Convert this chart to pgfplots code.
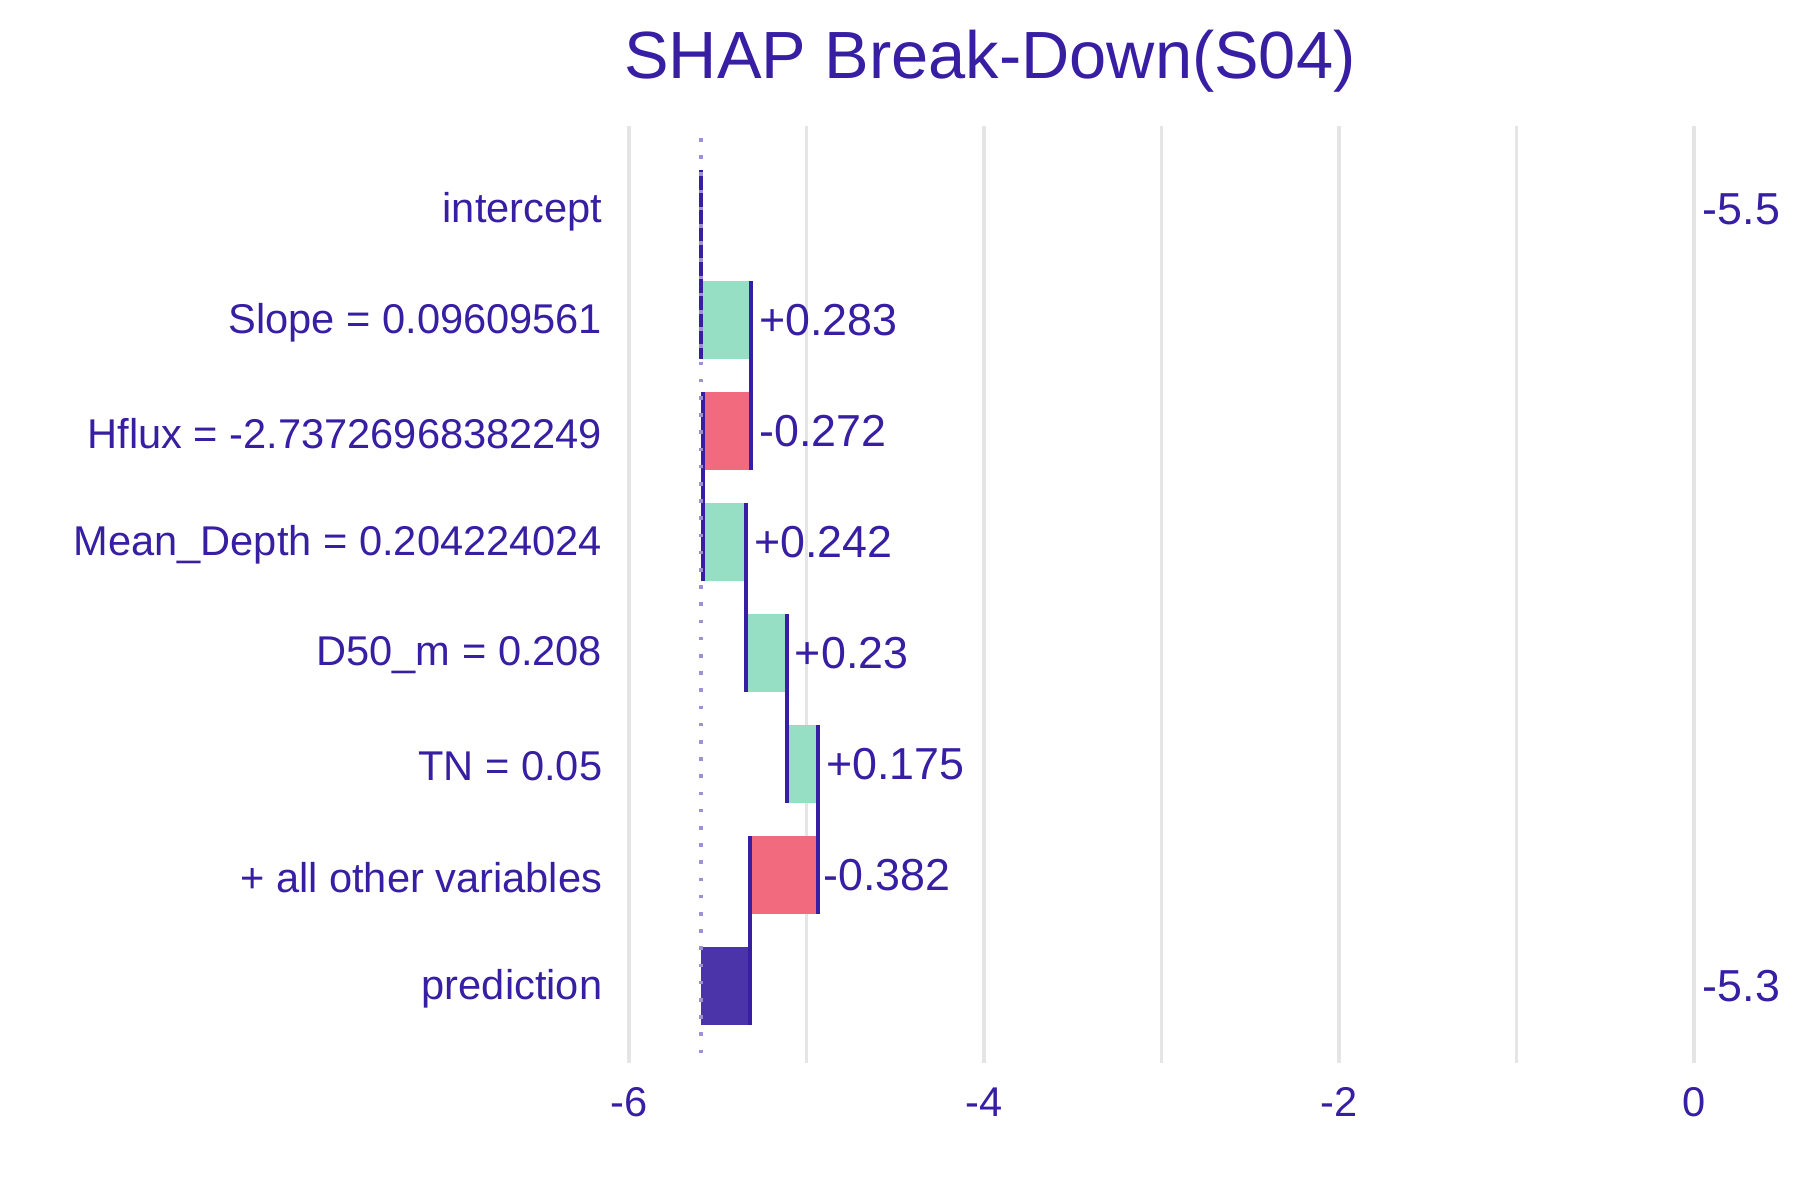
\documentclass[border=0pt]{standalone}
\usepackage{fontspec}
\setmainfont{Liberation Sans}
\usepackage{pgfplots}
\pgfplotsset{compat=1.18}
\definecolor{txt}{HTML}{371EA3}
\definecolor{pos}{HTML}{96DFC5}
\definecolor{neg}{HTML}{F16A7D}
\definecolor{pred}{HTML}{4B34A9}
\definecolor{dotc}{HTML}{9D91D5}
\definecolor{gridc}{HTML}{E5E5E5}
\begin{document}
\begin{tikzpicture}
\useasboundingbox (-157.25pt,-34.35pt) rectangle (292.75pt,265.65pt);
\begin{axis}[
  name=a, at={(0,0)}, anchor=south west,
  scale only axis, width=266.25pt, height=234.21pt,
  xmin=-6, xmax=0, ymin=0.25, ymax=8.69, y dir=reverse,
  clip=false,
  axis line style={draw=none},
  major tick length=0pt, minor tick length=0pt,
  xtick={-6,-4,-2,0}, xticklabels={-6,-4,-2,0},
  minor xtick={-5,-3,-1},
  xmajorgrids, xminorgrids,
  major grid style={gridc, line width=0.85pt},
  minor grid style={gridc, line width=0.85pt},
  ytick={1,2,3,4,5,6,7,8},
  yticklabels={intercept, Slope = 0.09609561, Hflux = -2.73726968382249, Mean\_Depth = 0.204224024, D50\_m = 0.208, TN = 0.05, + all other variables, prediction},
  yticklabel style={anchor=east, inner sep=0pt, xshift=-6.5pt, yshift=-0.6pt, text=txt, font=\fontsize{10.4}{12}\selectfont},
  xticklabel style={anchor=north, inner sep=0pt, yshift=-6pt, text=txt, font=\fontsize{10.4}{12}\selectfont},
]
% bars
\addplot[fill=pos, draw=none] coordinates {(-5.593,1.65) (-5.310,1.65) (-5.310,2.35) (-5.593,2.35)} --cycle;
\addplot[fill=neg, draw=none] coordinates {(-5.310,2.65) (-5.582,2.65) (-5.582,3.35) (-5.310,3.35)} --cycle;
\addplot[fill=pos, draw=none] coordinates {(-5.582,3.65) (-5.340,3.65) (-5.340,4.35) (-5.582,4.35)} --cycle;
\addplot[fill=pos, draw=none] coordinates {(-5.340,4.65) (-5.110,4.65) (-5.110,5.35) (-5.340,5.35)} --cycle;
\addplot[fill=pos, draw=none] coordinates {(-5.110,5.65) (-4.935,5.65) (-4.935,6.35) (-5.110,6.35)} --cycle;
\addplot[fill=neg, draw=none] coordinates {(-4.935,6.65) (-5.317,6.65) (-5.317,7.35) (-4.935,7.35)} --cycle;
\addplot[fill=pred, draw=none] coordinates {(-5.593,7.65) (-5.317,7.65) (-5.317,8.35) (-5.593,8.35)} --cycle;
% connectors
\addplot[txt, line width=1pt] coordinates {(-5.593,0.65) (-5.593,2.35)};
\addplot[txt, line width=1pt] coordinates {(-5.310,1.65) (-5.310,3.35)};
\addplot[txt, line width=1pt] coordinates {(-5.582,2.65) (-5.582,4.35)};
\addplot[txt, line width=1pt] coordinates {(-5.340,3.65) (-5.340,5.35)};
\addplot[txt, line width=1pt] coordinates {(-5.110,4.65) (-5.110,6.35)};
\addplot[txt, line width=1pt] coordinates {(-4.935,5.65) (-4.935,7.35)};
\addplot[txt, line width=1pt] coordinates {(-5.317,6.65) (-5.317,8.35)};
% intercept dotted line
\addplot[dotc, line width=0.9pt, dash pattern=on 0.9pt off 3.4pt] coordinates {(-5.593,0.36) (-5.593,8.71)};
% value labels
\begin{scope}[every node/.style={anchor=west, inner sep=0pt, text=txt, font=\fontsize{11.2}{13}\selectfont}]
\node[xshift=1.8pt] at (axis cs:-5.310,2) {+0.283};
\node[xshift=1.8pt] at (axis cs:-5.310,3) {-0.272};
\node[xshift=1.8pt] at (axis cs:-5.340,4) {+0.242};
\node[xshift=1.8pt] at (axis cs:-5.110,5) {+0.23};
\node[xshift=1.8pt] at (axis cs:-4.935,6) {+0.175};
\node[xshift=1.2pt] at (axis cs:-4.935,7) {-0.382};
\node[xshift=2pt] at (axis cs:0,1) {-5.5};
\node[xshift=2pt] at (axis cs:0,8) {-5.3};
\end{scope}
\end{axis}
\node[anchor=base, inner sep=0pt, text=txt, font=\fontsize{16.7}{20}\selectfont] at ([xshift=90.25pt, yshift=11.94pt]a.north west) {SHAP Break-Down(S04)};
\end{tikzpicture}
\end{document}
